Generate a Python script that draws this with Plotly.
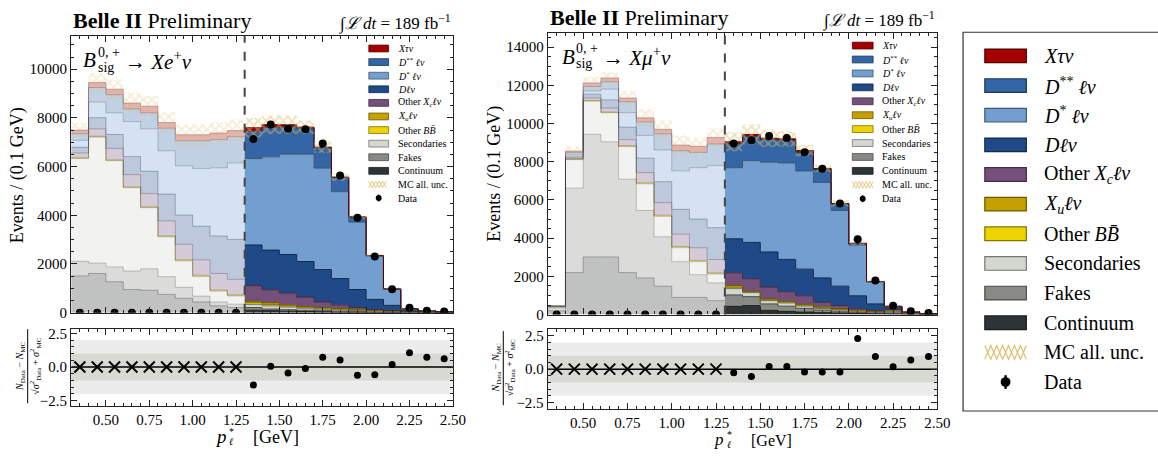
import numpy as np
import plotly.graph_objects as go

W, H = 1158, 456
FONT = "Liberation Serif"

# ---------------- data ----------------
bin_edges = [0.3, 0.4, 0.5, 0.6, 0.7, 0.8, 0.9, 1.0, 1.1, 1.2, 1.3, 1.4,
             1.5, 1.6, 1.7, 1.8, 1.9, 2.0, 2.1, 2.2, 2.3, 2.4, 2.5]
bin_centers = [0.35, 0.45, 0.55, 0.65, 0.75, 0.85, 0.95, 1.05, 1.15, 1.25, 1.35,
               1.45, 1.55, 1.65, 1.75, 1.85, 1.95, 2.05, 2.15, 2.25, 2.35, 2.45]
n_blind = 10  # bins below 1.3 GeV: shown faded, data blinded

# electron channel (events / 0.1 GeV)
e_continuum = [1510, 1610, 1270, 950, 920, 750, 590, 440, 280, 210,
               100, 80, 60, 50, 40, 30, 25, 20, 15, 12, 10, 8]
e_fakes = [600, 430, 610, 760, 880, 730, 450, 240, 160, 140,
           110, 70, 60, 50, 40, 30, 20, 15, 10, 8, 5, 4]
e_secondaries = [4220, 5170, 4360, 3420, 2510, 1630, 1080, 800, 440, 330,
                 130, 130, 110, 80, 60, 50, 35, 25, 15, 10, 7, 5]
e_other_bb = [15, 15, 15, 15, 15, 20, 25, 25, 25, 25,
              70, 60, 50, 40, 40, 30, 30, 20, 15, 10, 8, 5]
e_xu = [25, 25, 25, 25, 25, 30, 35, 35, 35, 35,
        60, 70, 40, 40, 35, 35, 30, 20, 15, 10, 8, 6]
e_other_xc = [190, 300, 470, 500, 540, 610, 630, 630, 670, 630,
              640, 530, 480, 380, 225, 145, 70, 30, 15, 10, 4, 2]
e_dlv = [230, 460, 570, 740, 920, 1100, 1200, 1380, 1540, 1640,
         1670, 1630, 1590, 1460, 1330, 1080, 740, 415, 215, 40, 8, 3]
e_dstar = [290, 640, 890, 1440, 1740, 1780, 2020, 2370, 2800, 3140,
           3550, 3830, 4120, 4410, 4170, 3570, 2770, 1775, 650, 50, 12, 4]
e_dstarstar = [270, 600, 740, 520, 660, 930, 1030, 1140, 1160, 1080,
               1120, 1200, 1120, 1050, 820, 580, 200, 25, 25, 10, 6, 3]
e_xtau = [150, 200, 230, 240, 270, 230, 250, 250, 270, 250,
          150, 120, 90, 60, 40, 20, 15, 5, 5, 5, 2, 2]
e_unc = [300, 400, 400, 420, 420, 420, 430, 430, 440, 450,
         400, 380, 380, 280, 230, 150, 80, 45, 25, 15, 10, 8]
e_data = [0, 0, 0, 0, 0, 0, 0, 0, 0, 0,
          7130, 7730, 7550, 7530, 6950, 5630, 3900, 2310, 960, 200, 80, 50]
e_pull = [0, 0, 0, 0, 0, 0, 0, 0, 0, 0,
          -1.33, 0.05, -0.45, -0.12, 0.72, 0.52, -0.62, -0.58, 0.18, 1.05, 0.72, 0.62]

# muon channel (events / 0.1 GeV)
mu_continuum = [200, 2200, 3020, 3020, 2200, 1920, 1490, 900, 900, 730,
                430, 470, 220, 170, 130, 100, 80, 60, 50, 40, 20, 10]
mu_fakes = [150, 4420, 6420, 6025, 4890, 3530, 2580, 1870, 1190, 930,
            600, 470, 340, 270, 200, 140, 100, 70, 50, 110, 30, 10]
mu_secondaries = [50, 1490, 1730, 1515, 1700, 1390, 1070, 730, 680, 460,
                  330, 210, 170, 170, 120, 80, 60, 40, 30, 50, 15, 8]
mu_other_bb = [3, 15, 20, 20, 25, 30, 30, 30, 30, 30,
               70, 30, 30, 40, 40, 40, 30, 30, 25, 20, 10, 4]
mu_xu = [3, 15, 25, 25, 30, 40, 40, 40, 40, 40,
         90, 40, 60, 50, 50, 50, 50, 40, 25, 30, 15, 6]
mu_other_xc = [14, 40, 125, 205, 315, 520, 650, 640, 660, 695,
               670, 660, 620, 500, 445, 235, 155, 65, 40, 20, 10, 4]
mu_dlv = [10, 80, 200, 430, 650, 760, 1100, 1300, 1500, 1665,
          1780, 1900, 1840, 1690, 1395, 1275, 1015, 680, 340, 110, 15, 3]
mu_dstar = [10, 100, 170, 560, 760, 1190, 1660, 2010, 2690, 3260,
            3720, 4280, 4700, 5050, 5140, 5000, 3960, 2655, 1140, 40, 10, 3]
mu_dstarstar = [18, 120, 230, 390, 570, 710, 835, 1055, 802, 1120,
                1260, 1270, 1170, 1160, 980, 680, 350, 75, 25, 10, 5, 2]
mu_xtau = [12, 80, 190, 200, 200, 210, 245, 300, 315, 340,
           100, 100, 80, 100, 90, 50, 20, 20, 10, 10, 5, 2]
mu_unc = [40, 250, 320, 300, 380, 450, 470, 500, 470, 470,
          500, 520, 440, 400, 300, 200, 170, 100, 60, 30, 15, 10]
mu_data = [0, 0, 0, 0, 0, 0, 0, 0, 0, 0,
           8960, 9130, 9350, 9250, 8500, 7640, 5820, 3950, 1780, 470, 170, 90]
mu_pull = [0, 0, 0, 0, 0, 0, 0, 0, 0, 0,
           -0.27, -0.56, 0.19, 0.19, -0.22, -0.22, -0.22, 2.31, 0.95, 0.17, 0.68, 0.95]

x_ticks = [0.5, 0.75, 1.0, 1.25, 1.5, 1.75, 2.0, 2.25, 2.5]

# ---------------- styles ----------------
order = ["cont", "fakes", "sec", "bb", "xu", "xc", "dlv", "dstar", "dss", "xtau"]
fill = {"xtau": "#a40000", "dss": "#3465a4", "dstar": "#729fcf", "dlv": "#204a87",
        "xc": "#75507b", "xu": "#c4a000", "bb": "#edd400", "sec": "#d3d7cf",
        "fakes": "#888a85", "cont": "#2e3436"}


def rgb_of(hexc):
    return int(hexc[1:3], 16), int(hexc[3:5], 16), int(hexc[5:7], 16)


def rgba(hexc, a=1.0, f=1.0):
    r, g, b = rgb_of(hexc)
    return "rgba(%d,%d,%d,%.3f)" % (r * f, g * f, b * f, a)


HATCH = "#dcbf6e"
FADE = 0.3

fig = go.Figure()


def px(x):
    return x / W


def py(y):
    return 1 - y / H


def add_panel(xa, ya, xr, yr, comps, unc, data, pull):
    stack = np.cumsum(np.array([comps[k] for k in order], dtype=float), axis=0)
    nb = len(bin_centers)
    for lo, hi, op in [(0, n_blind, FADE), (n_blind, nb, 1.0)]:
        ex = bin_edges[lo:hi + 1]
        for k, name in enumerate(order):
            top = list(stack[k, lo:hi])
            fig.add_trace(go.Scatter(
                x=ex, y=top + [top[-1]], mode="lines",
                line=dict(shape="hv", color=rgba(fill[name], op, 0.55), width=1),
                fill="tozeroy" if k == 0 else "tonexty", fillcolor=rgba(fill[name], op),
                xaxis=xa, yaxis=ya, showlegend=False, hoverinfo="skip"))
        tot = stack[-1, lo:hi]
        u = np.array(unc[lo:hi], dtype=float)
        lower = list(tot - u)
        upper = list(tot + u)
        fig.add_trace(go.Scatter(
            x=ex, y=lower + [lower[-1]], mode="lines", line=dict(shape="hv", width=0),
            xaxis=xa, yaxis=ya, showlegend=False, hoverinfo="skip"))
        fig.add_trace(go.Scatter(
            x=ex, y=upper + [upper[-1]], mode="lines", line=dict(shape="hv", width=0),
            fill="tonexty", fillcolor="rgba(0,0,0,0)",
            fillpattern=dict(shape="x", fgcolor=rgba(HATCH, 0.6 if op < 1 else 1.0),
                             bgcolor="rgba(0,0,0,0)", size=6, solidity=0.5),
            xaxis=xa, yaxis=ya, showlegend=False, hoverinfo="skip"))
    # data
    fig.add_trace(go.Scatter(
        x=bin_centers, y=data, mode="markers",
        marker=dict(color="black", size=8),
        error_y=dict(type="data", array=list(np.sqrt(np.array(data, dtype=float))),
                     color="black", thickness=2, width=0),
        xaxis=xa, yaxis=ya, showlegend=False, hoverinfo="skip"))
    # pulls
    fig.add_trace(go.Scatter(
        x=bin_centers[:n_blind], y=pull[:n_blind], mode="markers",
        marker=dict(symbol="x-thin", size=11, line=dict(color="black", width=2)),
        xaxis=xr, yaxis=yr, showlegend=False, hoverinfo="skip"))
    fig.add_trace(go.Scatter(
        x=bin_centers[n_blind:], y=pull[n_blind:], mode="markers",
        marker=dict(color="black", size=7),
        xaxis=xr, yaxis=yr, showlegend=False, hoverinfo="skip"))


e_comps = dict(cont=e_continuum, fakes=e_fakes, sec=e_secondaries, bb=e_other_bb,
               xu=e_xu, xc=e_other_xc, dlv=e_dlv, dstar=e_dstar, dss=e_dstarstar,
               xtau=e_xtau)
mu_comps = dict(cont=mu_continuum, fakes=mu_fakes, sec=mu_secondaries, bb=mu_other_bb,
                xu=mu_xu, xc=mu_other_xc, dlv=mu_dlv, dstar=mu_dstar, dss=mu_dstarstar,
                xtau=mu_xtau)

add_panel("x", "y", "x2", "y2", e_comps, e_unc, e_data, e_pull)
add_panel("x3", "y3", "x4", "y4", mu_comps, mu_unc, mu_data, mu_pull)

# ---------------- axes ----------------
AX = "#222222"


def xaxis(dom, anchor, labels):
    return dict(domain=dom, anchor=anchor, range=[0.3, 2.5], showgrid=False, zeroline=False,
                ticks="inside", ticklen=6, tickwidth=1, tickcolor=AX, showline=True,
                linecolor=AX, linewidth=1.3, mirror="allticks", tickvals=x_ticks,
                ticktext=["%.2f" % v for v in x_ticks], showticklabels=labels,
                tickfont=dict(family=FONT, size=15, color="black"),
                minor=dict(ticks="inside", ticklen=3, dtick=0.05, tick0=0.3, tickcolor=AX))


def ymain(dom, anchor, top):
    return dict(domain=dom, anchor=anchor, range=[0, top], showgrid=False, zeroline=False,
                ticks="inside", ticklen=6, tickcolor=AX, showline=True, linecolor=AX,
                linewidth=1.3, mirror="allticks", dtick=2000, tickformat="d",
                tickfont=dict(family=FONT, size=15, color="black"),
                minor=dict(ticks="inside", ticklen=3, dtick=500, tickcolor=AX))


def yratio(dom, anchor, rng):
    return dict(domain=dom, anchor=anchor, range=rng, showgrid=False, zeroline=False,
                ticks="inside", ticklen=6, tickcolor=AX, showline=True, linecolor=AX,
                linewidth=1.3, mirror="allticks", tickvals=[-2.5, 0, 2.5],
                ticktext=["\u22122.5", "0.0", "2.5"],
                tickfont=dict(family=FONT, size=15, color="black"),
                minor=dict(ticks="inside", ticklen=3, dtick=0.5, tickcolor=AX))


fig.update_layout(
    width=W, height=H, margin=dict(l=0, r=0, t=0, b=0),
    paper_bgcolor="white", plot_bgcolor="white", showlegend=False,
    font=dict(family=FONT, color="black"),
    xaxis=xaxis([px(72), px(458)], "y", False),
    yaxis=ymain([py(317), py(33)], "x", 11360),
    xaxis2=xaxis([px(72), px(458)], "y2", True),
    yaxis2=yratio([py(413), py(334)], "x2", [-2.9, 2.8]),
    xaxis3=xaxis([px(554), px(948)], "y3", False),
    yaxis3=ymain([py(319), py(30)], "x3", 14730),
    xaxis4=xaxis([px(554), px(948)], "y4", True),
    yaxis4=yratio([py(416), py(334)], "x4", [-3.0, 3.0]),
)

shapes = []
annos = []

# ratio bands, zero line, dashed split line
for xr, yr, xm, ym in [("x2", "y2", "x", "y"), ("x4", "y4", "x3", "y3")]:
    shapes.append(dict(type="rect", xref=xr, yref=yr, x0=0.3, x1=2.5, y0=-2, y1=2,
                       fillcolor="#ececec", line=dict(width=0), layer="below"))
    shapes.append(dict(type="rect", xref=xr, yref=yr, x0=0.3, x1=2.5, y0=-1, y1=1,
                       fillcolor="#d7dad3", line=dict(width=0), layer="below"))
    shapes.append(dict(type="line", xref=xr, yref=yr, x0=0.3, x1=2.5, y0=0, y1=0,
                       line=dict(color="black", width=1.5), layer="below"))
    shapes.append(dict(type="line", xref=xm, yref=ym + " domain", x0=bin_edges[n_blind],
                       x1=bin_edges[n_blind], y0=0, y1=1,
                       line=dict(color="#444444", width=2, dash="dash"), layer="above"))


def text(x, y, s, size, xanchor="left", angle=0, yanchor="middle"):
    annos.append(dict(xref="paper", yref="paper", x=px(x), y=py(y), text=s,
                      showarrow=False, xanchor=xanchor, yanchor=yanchor, textangle=angle,
                      font=dict(family=FONT, size=size, color="black")))


# titles
text(72, 17, "<b>Belle II</b> Preliminary", 22)
text(458, 19, "\u222b<i>\u2112 dt</i> = 189 fb<sup>\u22121</sup>", 17, xanchor="right")
text(554, 14, "<b>Belle II</b> Preliminary", 22)
text(948, 16, "\u222b<i>\u2112 dt</i> = 189 fb<sup>\u22121</sup>", 17, xanchor="right")

# channel labels
text(82, 58, "<i>B</i>", 21)
text(97, 50, "0, +", 14)
text(97, 65, "sig", 14)
text(124, 58, "\u2192 <i>Xe</i><sup>+</sup><i>\u03bd</i>", 21)
text(566, 54, "<i>B</i>", 21)
text(581, 46, "0, +", 14)
text(581, 61, "sig", 14)
text(608, 54, "\u2192 <i>X\u03bc</i><sup>+</sup><i>\u03bd</i>", 21)

# y titles
text(18, 176, "Events / (0.1 GeV)", 18, xanchor="center", angle=-90)
text(500, 174, "Events / (0.1 GeV)", 18, xanchor="center", angle=-90)
for xn, xb, xd, yc in [(20, 28, 36, 372), (502, 509, 516, 374)]:
    text(xn, yc, "<i>N</i><sub>Data</sub> \u2212 <i>N</i><sub>MC</sub>", 10,
         xanchor="center", angle=-90)
    text(xd, yc, "\u221a<i>\u03c3</i><sup>2</sup><sub>Data</sub> + <i>\u03c3</i><sup>2</sup><sub>MC</sub>",
         10, xanchor="center", angle=-90)
    shapes.append(dict(type="line", xref="paper", yref="paper", x0=px(xb), x1=px(xb),
                       y0=py(yc - 38), y1=py(yc + 38), line=dict(color="black", width=1)))

# x titles
for xp, yp, fs in [(224, 444, 18), (727, 447, 16)]:
    text(xp, yp, "<i>p</i>", fs + 1, xanchor="center")
    text(xp + 6, yp - 5, "*", 10)
    text(xp + 6, yp + 5, "<i>\u2113</i>", 10)
    text(xp + 30, yp + 1, "[GeV]", fs)

# ---------------- legends ----------------
legend_items = [
    ("<i>X\u03c4\u03bd</i>", "fill", "xtau"),
    ("<i>D</i><sup>**</sup> <i>\u2113\u03bd</i>", "fill", "dss"),
    ("<i>D</i><sup>*</sup> <i>\u2113\u03bd</i>", "fill", "dstar"),
    ("<i>D\u2113\u03bd</i>", "fill", "dlv"),
    ("Other <i>X</i><sub><i>c</i></sub><i>\u2113\u03bd</i>", "fill", "xc"),
    ("<i>X</i><sub><i>u</i></sub><i>\u2113\u03bd</i>", "fill", "xu"),
    ("Other <i>B</i><i>B\u0304</i>", "fill", "bb"),
    ("Secondaries", "fill", "sec"),
    ("Fakes", "fill", "fakes"),
    ("Continuum", "fill", "cont"),
    ("MC all. unc.", "hatch", None),
    ("Data", "data", None),
]


def zigzag(x0, x1, y0, y1, period, start_top):
    pts = []
    x = x0
    up = start_top
    while x <= x1 + 0.01:
        pts.append("%.5f,%.5f" % (px(x), py(y0 if up else y1)))
        up = not up
        x += period / 2
    return "M " + " L ".join(pts)


def draw_legend(xs, ws, hs, y0, dy, xl, fs, lw, period, rdot):
    for i, (lab, kind, key) in enumerate(legend_items):
        yc = y0 + i * dy
        if kind == "fill":
            shapes.append(dict(type="rect", xref="paper", yref="paper",
                               x0=px(xs), x1=px(xs + ws), y0=py(yc + hs / 2), y1=py(yc - hs / 2),
                               fillcolor=fill[key], line=dict(color=rgba(fill[key], 1, 0.55), width=lw)))
        elif kind == "hatch":
            for st in (True, False):
                shapes.append(dict(type="path", xref="paper", yref="paper",
                                   path=zigzag(xs, xs + ws, yc - hs / 2, yc + hs / 2, period, st),
                                   line=dict(color=HATCH, width=lw)))
        else:
            xc = xs + ws / 2
            shapes.append(dict(type="line", xref="paper", yref="paper", x0=px(xc), x1=px(xc),
                               y0=py(yc + hs / 2), y1=py(yc - hs / 2),
                               line=dict(color="black", width=lw * 2)))
            shapes.append(dict(type="circle", xref="paper", yref="paper",
                               x0=px(xc - rdot), x1=px(xc + rdot), y0=py(yc + rdot), y1=py(yc - rdot),
                               fillcolor="black", line=dict(color="black", width=0)))
        text(xl, yc, lab, fs)


# big legend box
shapes.append(dict(type="rect", xref="paper", yref="paper", x0=px(974), x1=1.02,
                   y0=py(418), y1=py(29), line=dict(color="#333333", width=1.2),
                   fillcolor="rgba(0,0,0,0)"))
draw_legend(996, 42, 14, 53.3, 30.45, 1054, 20, 1.2, 12, 5)
# in-panel legends
draw_legend(373, 20, 7, 45.7, 13.96, 401, 10, 0.8, 7, 3)
draw_legend(862, 21, 7, 42.7, 14.3, 890, 10, 0.8, 7, 3)

fig.update_layout(shapes=shapes, annotations=annos)
fig.write_html("out.html")
